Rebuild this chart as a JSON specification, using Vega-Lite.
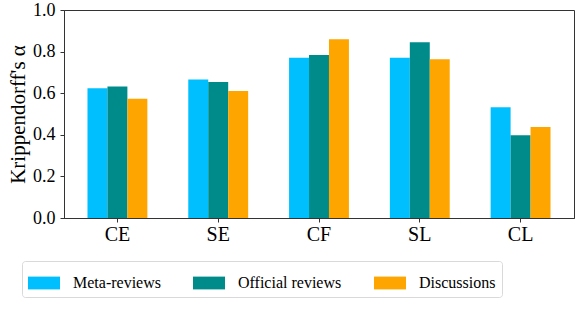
{
  "$schema": "https://vega.github.io/schema/vega-lite/v6.json",
  "autosize": {"type": "none"},
  "width": 510,
  "height": 208,
  "padding": {"left": 64, "top": 10, "right": 12, "bottom": 101},
  "config": {
    "font": "Liberation Serif, serif",
    "axis": {"labelFont": "Liberation Serif, serif", "titleFont": "Liberation Serif, serif"},
    "legend": {"labelFont": "Liberation Serif, serif", "titleFont": "Liberation Serif, serif"},
    "view": {"stroke": "#333333", "strokeWidth": 1}
  },
  "data": {"values": [
    {"cat": "CE", "series": "Meta-reviews", "v": 0.624},
    {"cat": "CE", "series": "Official reviews", "v": 0.632},
    {"cat": "CE", "series": "Discussions", "v": 0.573},
    {"cat": "SE", "series": "Meta-reviews", "v": 0.666},
    {"cat": "SE", "series": "Official reviews", "v": 0.654},
    {"cat": "SE", "series": "Discussions", "v": 0.610},
    {"cat": "CF", "series": "Meta-reviews", "v": 0.770},
    {"cat": "CF", "series": "Official reviews", "v": 0.784},
    {"cat": "CF", "series": "Discussions", "v": 0.859},
    {"cat": "SL", "series": "Meta-reviews", "v": 0.771},
    {"cat": "SL", "series": "Official reviews", "v": 0.845},
    {"cat": "SL", "series": "Discussions", "v": 0.763},
    {"cat": "CL", "series": "Meta-reviews", "v": 0.533},
    {"cat": "CL", "series": "Official reviews", "v": 0.398},
    {"cat": "CL", "series": "Discussions", "v": 0.438}
  ]},
  "mark": {"type": "bar"},
  "encoding": {
    "x": {
      "field": "cat", "type": "nominal", "sort": ["CE", "SE", "CF", "SL", "CL"],
      "scale": {"paddingInner": 0.406, "paddingOuter": 0.233},
      "axis": {"title": null, "labelAngle": 0, "labelFontSize": 20, "labelColor": "#000", "tickColor": "#333", "domainColor": "#333", "tickSize": 4, "labelPadding": 2}
    },
    "xOffset": {"field": "series", "type": "nominal", "sort": ["Meta-reviews", "Official reviews", "Discussions"], "scale": {"paddingInner": 0, "paddingOuter": 0}},
    "y": {
      "field": "v", "type": "quantitative",
      "scale": {"domain": [0, 1], "nice": false},
      "axis": {"title": "Krippendorff's α", "titleFontSize": 21, "titleFontWeight": "normal", "titleColor": "#000", "titlePadding": 4, "labelFont": "Times New Roman", "labelFontSize": 18, "labelColor": "#000", "format": ".1f", "values": [0, 0.2, 0.4, 0.6, 0.8, 1.0], "grid": false, "tickSize": 4, "tickColor": "#333", "domainColor": "#333", "labelPadding": 5}
    },
    "color": {
      "field": "series", "type": "nominal",
      "sort": ["Meta-reviews", "Official reviews", "Discussions"],
      "scale": {"domain": ["Meta-reviews", "Official reviews", "Discussions"], "range": ["#00BFFF", "#008B8B", "#FFA500"]},
      "legend": {
        "title": null, "orient": "none", "direction": "horizontal",
        "legendX": -42, "legendY": 251,
        "symbolType": "M-1,-0.4H1V0.4H-1Z", "symbolSize": 1024, "symbolStrokeWidth": 0, "symbolOpacity": 1,
        "labelFont": "Times New Roman", "labelFontSize": 16, "labelColor": "#000", "labelOffset": 13, "columnPadding": 32,
        "padding": 6, "strokeColor": "#d9d9d9", "cornerRadius": 3, "fillColor": "#fff"
      }
    }
  }
}
